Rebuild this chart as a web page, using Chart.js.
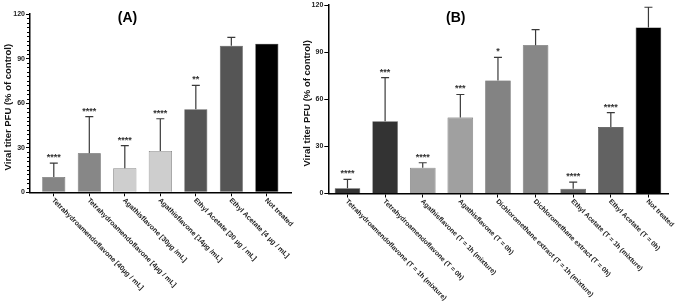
<!DOCTYPE html>
<html>
<head>
<meta charset="utf-8">
<script src="https://cdn.jsdelivr.net/npm/chart.js@4"></script>
<style>
  html, body { margin: 0; padding: 0; background: #fff; }
  #wrap { position: relative; width: 676px; height: 301px; }
  #boxA { position: absolute; left: 0; top: 0; }
  #boxB { position: absolute; left: 300px; top: 0; }
</style>
</head>
<body>
<div id="wrap">
  <div id="boxA"><canvas id="chartA" width="300" height="301"></canvas></div>
  <div id="boxB"><canvas id="chartB" width="376" height="301"></canvas></div>
</div>
<script>
// panel A
const labelsA = [
  'Tetrahydroamendoflavone [40µg / mL]',
  'Tetrahydroamendoflavone [4µg / mL]',
  'Agathisflavone [30µg /mL]',
  'Agathisflavone [14µg /mL]',
  'Ethyl Acetate [30 µg / mL]',
  'Ethyl Acetate [4 µg / mL]',
  'Not treated'
];
const valuesA = [10.3, 26.2, 16.2, 27.8, 55.9, 98.7, 100];
const sdA = [9.4, 24.7, 15.2, 21.7, 16.1, 5.6, 0];
const starsA = ['****', '****', '****', '****', '**', '', ''];

// panel B
const labelsB = [
  'Tetrahydroamendoflavone (T = 1h (mixture)',
  'Tetrahydroamendoflavone (T = 0h)',
  'Agathisflavone (T = 1h (mixture)',
  'Agathisflavone (T = 0h)',
  'Dichloromethane extract (T = 1h (mixture)',
  'Dichloromethane extract (T = 0h)',
  'Ethyl Acetate (T = 1h (mixture)',
  'Ethyl Acetate (T = 0h)',
  'Not treated'
];
const valuesB = [3.3, 46.1, 16.4, 48.4, 72.0, 94.4, 3.1, 42.3, 105.8];
const sdB = [5.7, 27.8, 3.2, 14.7, 14.8, 10.0, 4.2, 9.3, 12.9];
const starsB = ['****', '***', '****', '***', '*', '', '****', '****', ''];

const yTicks = [0, 30, 60, 90, 120];

const colorsA = ['#858585', '#878787', '#cecece', '#cecece', '#555555', '#555555', '#000000'];
const colorsB = ['#333333', '#333333', '#a0a0a0', '#a0a0a0', '#838383', '#878787', '#626262', '#626262', '#000000'];

const FONT = '"Liberation Sans", Arial, sans-serif';

const extrasPlugin = {
  id: 'extras',
  afterDraw(chart) {
    const o = chart.options.plugins.extras;
    const ctx = chart.ctx;
    const x = chart.scales.x, y = chart.scales.y;
    const area = chart.chartArea;
    ctx.save();

    // minor y ticks
    if (o.minor) {
      ctx.strokeStyle = '#000';
      ctx.lineWidth = 1;
      for (let v = o.minor; v < 120; v += o.minor) {
        if (v % 30 === 0) continue;
        const py = Math.round(y.getPixelForValue(v)) + 0.5;
        ctx.beginPath();
        ctx.moveTo(area.left - 3, py);
        ctx.lineTo(area.left, py);
        ctx.stroke();
      }
    }

    // error bars and stars
    const meta = chart.getDatasetMeta(0);
    meta.data.forEach((bar, i) => {
      const sd = o.sd[i];
      const topV = o.values[i] + sd;
      const py0 = y.getPixelForValue(o.values[i]);
      const py1 = y.getPixelForValue(topV);
      if (sd > 0) {
        ctx.strokeStyle = '#3a3a3a';
        ctx.lineWidth = 1.2;
        ctx.beginPath();
        ctx.moveTo(bar.x, py0);
        ctx.lineTo(bar.x, py1);
        ctx.moveTo(bar.x - 4, py1);
        ctx.lineTo(bar.x + 4, py1);
        ctx.stroke();
      }
      if (o.stars[i]) {
        ctx.fillStyle = '#333';
        ctx.font = 'bold 9px ' + FONT;
        ctx.textAlign = 'center';
        ctx.textBaseline = 'alphabetic';
        ctx.fillText(o.stars[i], bar.x, py1 - 3);
      }
    });

    // rotated category labels
    ctx.fillStyle = '#222';
    ctx.font = 'bold ' + o.labelSize + 'px ' + FONT;
    ctx.textAlign = 'left';
    ctx.textBaseline = 'middle';
    o.labels.forEach((t, i) => {
      const px = x.getPixelForValue(i);
      ctx.save();
      ctx.translate(px - 1, area.bottom + 7);
      ctx.rotate(Math.PI / 4);
      ctx.fillText(t, 0, 0);
      ctx.restore();
    });

    // y axis title
    ctx.save();
    ctx.fillStyle = '#111';
    ctx.font = 'bold 9.5px ' + FONT;
    ctx.textAlign = 'center';
    ctx.textBaseline = 'middle';
    ctx.translate(o.ytitleX, (y.getPixelForValue(0) + y.getPixelForValue(120)) / 2 + 4);
    ctx.rotate(-Math.PI / 2);
    ctx.fillText('Viral titer PFU (% of control)', 0, 0);
    ctx.restore();

    // panel title
    ctx.fillStyle = '#000';
    ctx.font = 'bold 14px ' + FONT;
    ctx.textAlign = 'center';
    ctx.textBaseline = 'middle';
    ctx.fillText(o.title, o.titleX, 18);

    ctx.restore();
  }
};

function makeChart(id, labels, values, sd, stars, colors, opt) {
  return new Chart(document.getElementById(id), {
    type: 'bar',
    data: {
      datasets: [{
        data: values.map((v, i) => ({ x: i, y: v })),
        backgroundColor: colors,
        borderColor: colors.map(c => c === '#000000' ? '#000' : '#444'),
        borderWidth: 0.6,
        categoryPercentage: 1,
        barPercentage: opt.barPct
      }]
    },
    options: {
      responsive: false,
      animation: false,
      layout: { padding: { left: 0, top: opt.top, right: opt.right, bottom: 0 } },
      plugins: {
        legend: { display: false },
        tooltip: { enabled: false },
        extras: {
          labels: labels, values: values, sd: sd, stars: stars,
          minor: opt.minor, labelSize: opt.labelSize,
          title: opt.title, titleX: opt.titleX, ytitleX: opt.ytitleX
        }
      },
      scales: {
        x: {
          type: 'linear',
          offset: false,
          min: opt.xmin,
          max: labels.length - 1 + opt.xmax,
          afterBuildTicks: s => { s.ticks = labels.map((l, i) => ({ value: i })); },
          afterFit: s => { s.height = 301 - opt.bottom; },
          ticks: { display: false },
          grid: { drawOnChartArea: false, offset: false, color: '#000', tickLength: 4, tickWidth: 1 },
          border: { display: true, color: '#000', width: 1.5 }
        },
        y: {
          min: 0,
          max: 120,
          afterBuildTicks: s => { s.ticks = yTicks.map(v => ({ value: v })); },
          afterFit: s => { s.width = opt.left; },
          ticks: { color: '#222', font: { family: FONT, size: 7, weight: 'bold' }, padding: 1 },
          grid: { drawOnChartArea: false, color: '#000', tickLength: 4, tickWidth: 1 },
          border: { display: true, color: '#000', width: 1.5 }
        }
      }
    },
    plugins: [extrasPlugin]
  });
}

makeChart('chartA', labelsA, valuesA, sdA, starsA, colorsA, {
  top: 14, bottom: 192.3, left: 30, right: 8.3, xmin: -0.67, xmax: 0.7,
  barPct: 0.65, minor: 3, labelSize: 7, title: '(A)', titleX: 127.5, ytitleX: 8.5
});
makeChart('chartB', labelsB, valuesB, sdB, starsB, colorsB, {
  top: 4.7, bottom: 193.5, left: 28.3, right: 8, xmin: -0.51, xmax: 0.52,
  barPct: 0.68, minor: 0, labelSize: 6.8, title: '(B)', titleX: 155.8, ytitleX: 7.5
});
</script>
</body>
</html>
